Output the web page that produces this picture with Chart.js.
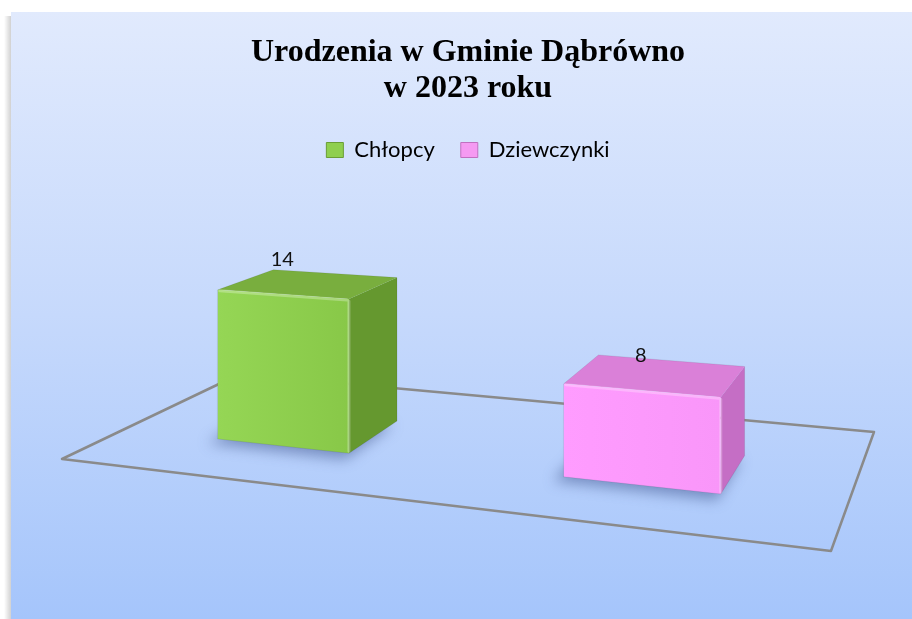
<!DOCTYPE html>
<html>
<head>
<meta charset="utf-8">
<script src="https://cdn.jsdelivr.net/npm/chart.js@4/dist/chart.umd.min.js"></script>
<style>
  html, body { margin: 0; padding: 0; background: #ffffff; }
  #wrap { position: relative; width: 912px; height: 619px; }
  canvas { display: block; }
</style>
</head>
<body>
<div id="wrap"><canvas id="c" width="912" height="619"></canvas></div>
<script>
// ---- data ----
const categories = ['2023'];
const seriesNames = ['Chłopcy', 'Dziewczynki'];
const boysValues = [14];
const girlsValues = [8];
const titleLines = ['Urodzenia w Gminie Dąbrówno', 'w 2023 roku'];

// ---- styles ----
const faceColors = [
  { front: ['#95d655', '#88c848'], top: '#79ae3e', side: '#65982f', legend: '#8fcf4f', legendBorder: '#6a9e36' },
  { front: ['#ff9cff', '#f996f9'], top: '#da80d8', side: '#c56ec5', legend: '#f59af2', legendBorder: '#c070c0' }
];

function homography(p0, p1, p2, p3) {
  const dx1 = p1.x - p2.x, dx2 = p3.x - p2.x, dx3 = p0.x - p1.x + p2.x - p3.x;
  const dy1 = p1.y - p2.y, dy2 = p3.y - p2.y, dy3 = p0.y - p1.y + p2.y - p3.y;
  const det = dx1 * dy2 - dx2 * dy1;
  const g = (dx3 * dy2 - dx2 * dy3) / det;
  const h = (dx1 * dy3 - dx3 * dy1) / det;
  const a = p1.x - p0.x + g * p1.x, b = p3.x - p0.x + h * p3.x, c = p0.x;
  const d = p1.y - p0.y + g * p1.y, e = p3.y - p0.y + h * p3.y, f = p0.y;
  return (u, w) => {
    const D = g * u + h * w + 1;
    return { x: (a * u + b * w + c) / D, y: (d * u + e * w + f) / D, D };
  };
}

function poly(ctx, pts) {
  ctx.beginPath();
  ctx.moveTo(pts[0].x, pts[0].y);
  for (let i = 1; i < pts.length; i++) ctx.lineTo(pts[i].x, pts[i].y);
  ctx.closePath();
}

const DEPTH_FRONT = 0.31, DEPTH_BACK = 0.65;

const panelPlugin = {
  id: 'panel',
  beforeDraw(chart) {
    const ctx = chart.ctx;
    const W = chart.width, H = chart.height;
    ctx.save();
    ctx.fillStyle = '#ffffff';
    ctx.fillRect(0, 0, W, H);
    const sg = ctx.createLinearGradient(4, 0, 11, 0);
    sg.addColorStop(0, 'rgba(0,0,0,0)');
    sg.addColorStop(1, 'rgba(0,0,0,0.18)');
    ctx.fillStyle = sg;
    ctx.fillRect(4, 16, 7, H - 16);
    const g = ctx.createLinearGradient(0, 12, 0, H);
    g.addColorStop(0, '#e1eafd');
    g.addColorStop(0.5, '#c6d9fc');
    g.addColorStop(1, '#a5c5fb');
    ctx.fillStyle = g;
    ctx.fillRect(11, 12, W - 11, H - 12);
    ctx.restore();
  }
};

const bars3dPlugin = {
  id: 'bars3d',
  beforeDatasetsDraw(chart) {
    const ctx = chart.ctx;
    const ca = chart.chartArea;
    const xs = chart.scales.x;
    const cw = ca.right - ca.left;
    const FL = { x: ca.left, y: ca.bottom - 101 };
    const FR = { x: ca.left + 0.947 * cw, y: ca.bottom - 9 };
    const BR = { x: ca.right, y: ca.bottom - 128 };
    const BL = { x: ca.left + 0.219 * cw, y: ca.bottom - 186 };
    const Hm = homography(FL, FR, BR, BL);
    const P = (u, w, hpx) => { const p = Hm(u, w); return { x: p.x, y: p.y - hpx / p.D }; };

    ctx.save();
    poly(ctx, [FL, FR, BR, BL]);
    ctx.strokeStyle = '#8a8a8a';
    ctx.lineWidth = 2.5;
    ctx.lineJoin = 'round';
    ctx.stroke();

    chart.data.datasets.forEach((ds, i) => {
      const meta = chart.getDatasetMeta(i);
      if (meta.hidden) return;
      const col = faceColors[i];
      meta.data.forEach((el, j) => {
        const u0 = (el.x - el.width / 2 - xs.left) / xs.width;
        const u1 = (el.x + el.width / 2 - xs.left) / xs.width;
        const hpx = el.base - el.y;
        const w0 = DEPTH_FRONT, w1 = DEPTH_BACK;

        // soft shadow on the floor
        ctx.save();
        ctx.filter = 'blur(7px)';
        ctx.fillStyle = 'rgba(40,60,120,0.45)';
        const s0 = P(u0, w0, 0), s1 = P(u1, w0, 0), s2 = P(u1, w1, 0), s3 = P(u0, w1, 0);
        poly(ctx, [
          { x: s0.x - 10, y: s0.y + 4 }, { x: s1.x - 4, y: s1.y + 6 },
          { x: s2.x - 4, y: s2.y + 4 }, { x: s3.x - 10, y: s3.y + 2 }
        ]);
        ctx.fill();
        ctx.restore();

        const fBL = P(u0, w0, 0), fBR = P(u1, w0, 0), fTR = P(u1, w0, hpx), fTL = P(u0, w0, hpx);
        const bBR = P(u1, w1, 0), bTR = P(u1, w1, hpx), bTL = P(u0, w1, hpx);

        // right side face
        poly(ctx, [fBR, bBR, bTR, fTR]);
        ctx.fillStyle = col.side;
        ctx.fill();

        // top face
        poly(ctx, [fTL, fTR, bTR, bTL]);
        ctx.fillStyle = col.top;
        ctx.fill();

        // front face
        const fg = ctx.createLinearGradient(fTL.x, 0, fTR.x, 0);
        fg.addColorStop(0, col.front[0]);
        fg.addColorStop(1, col.front[1]);
        poly(ctx, [fBL, fBR, fTR, fTL]);
        ctx.fillStyle = fg;
        ctx.fill();

        // bevel highlights
        ctx.lineCap = 'round';
        ctx.strokeStyle = 'rgba(255,255,255,0.28)';
        ctx.lineWidth = 3;
        ctx.beginPath();
        ctx.moveTo(fTL.x + 2, fTL.y + 1);
        ctx.lineTo(fTR.x - 2, fTR.y + 1);
        ctx.moveTo(fTR.x, fTR.y + 2);
        ctx.lineTo(fBR.x, fBR.y - 2);
        ctx.stroke();
        ctx.strokeStyle = 'rgba(0,0,0,0.08)';
        ctx.lineWidth = 1;
        poly(ctx, [fBL, fBR, bBR, bTR, bTL, fTL]);
        ctx.stroke();

        // value label
        const lab = P((u0 + u1) / 2, w0, hpx);
        ctx.fillStyle = '#111111';
        ctx.font = '20px Lato';
        ctx.textAlign = 'center';
        ctx.textBaseline = 'alphabetic';
        ctx.fillText(String(ds.data[j]), lab.x, lab.y - 28);
      });
    });
    ctx.restore();
    return false;
  }
};

const chart = new Chart(document.getElementById('c'), {
  type: 'bar',
  data: {
    labels: categories,
    datasets: [
      { label: seriesNames[0], data: boysValues, backgroundColor: faceColors[0].legend, borderColor: faceColors[0].legendBorder, borderWidth: 1 },
      { label: seriesNames[1], data: girlsValues, backgroundColor: faceColors[1].legend, borderColor: faceColors[1].legendBorder, borderWidth: 1 }
    ]
  },
  options: {
    responsive: false,
    animation: false,
    devicePixelRatio: 1,
    layout: { padding: { top: 12, left: 62, right: 38, bottom: 59 } },
    datasets: { bar: { categoryPercentage: 1.0, barPercentage: 0.4 } },
    scales: {
      x: { display: false },
      y: { display: false, min: 0, max: 35 }
    },
    plugins: {
      title: {
        display: true,
        text: titleLines,
        color: '#000000',
        font: { family: "'Liberation Serif', 'Times New Roman', serif", size: 32, weight: 'bold', lineHeight: 1.125 },
        padding: { top: 23, bottom: 6 }
      },
      legend: {
        display: true,
        position: 'top',
        labels: {
          color: '#000000',
          font: { family: 'Lato', size: 22 },
          boxWidth: 17,
          boxHeight: 15,
          padding: 26
        }
      },
      tooltip: { enabled: false }
    }
  },
  plugins: [panelPlugin, bars3dPlugin]
});
</script>
</body>
</html>
